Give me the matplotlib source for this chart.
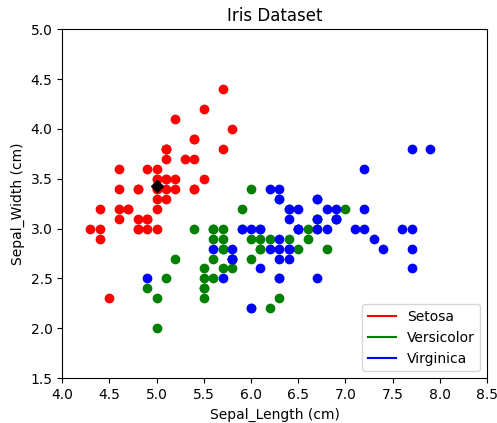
import matplotlib.pyplot as plt
from matplotlib.lines import Line2D
import numpy as np

setosa_len = [5.1, 4.9, 4.7, 4.6, 5.0, 5.4, 4.6, 5.0, 4.4, 4.9, 5.4, 4.8, 4.8, 4.3, 5.8, 5.7, 5.4, 5.1, 5.7, 5.1,
              5.4, 5.1, 4.6, 5.1, 4.8, 5.0, 5.0, 5.2, 5.2, 4.7, 4.8, 5.4, 5.2, 5.5, 4.9, 5.0, 5.5, 4.9, 4.4, 5.1,
              5.0, 4.5, 4.4, 5.0, 5.1, 4.8, 5.1, 4.6, 5.3, 5.0]
setosa_wid = [3.5, 3.0, 3.2, 3.1, 3.6, 3.9, 3.4, 3.4, 2.9, 3.1, 3.7, 3.4, 3.0, 3.0, 4.0, 4.4, 3.9, 3.5, 3.8, 3.8,
              3.4, 3.7, 3.6, 3.3, 3.4, 3.0, 3.4, 3.5, 3.4, 3.2, 3.1, 3.4, 4.1, 4.2, 3.1, 3.2, 3.5, 3.6, 3.0, 3.4,
              3.5, 2.3, 3.2, 3.5, 3.8, 3.0, 3.8, 3.2, 3.7, 3.3]
versi_len = [7.0, 6.4, 6.9, 5.5, 6.5, 5.7, 6.3, 4.9, 6.6, 5.2, 5.0, 5.9, 6.0, 6.1, 5.6, 6.7, 5.6, 5.8, 6.2, 5.6,
             5.9, 6.1, 6.3, 6.1, 6.4, 6.6, 6.8, 6.7, 6.0, 5.7, 5.5, 5.5, 5.8, 6.0, 5.4, 6.0, 6.7, 6.3, 5.6, 5.5,
             5.5, 6.1, 5.8, 5.0, 5.6, 5.7, 5.7, 6.2, 5.1, 5.7]
versi_wid = [3.2, 3.2, 3.1, 2.3, 2.8, 2.8, 3.3, 2.4, 2.9, 2.7, 2.0, 3.0, 2.2, 2.9, 2.9, 3.1, 3.0, 2.7, 2.2, 2.5,
             3.2, 2.8, 2.5, 2.8, 2.9, 3.0, 2.8, 3.0, 2.9, 2.6, 2.4, 2.4, 2.7, 2.7, 3.0, 3.4, 3.1, 2.3, 3.0, 2.5,
             2.6, 3.0, 2.6, 2.3, 2.7, 3.0, 2.9, 2.9, 2.5, 2.8]
virg_len = [6.3, 5.8, 7.1, 6.3, 6.5, 7.6, 4.9, 7.3, 6.7, 7.2, 6.5, 6.4, 6.8, 5.7, 5.8, 6.4, 6.5, 7.7, 7.7, 6.0,
            6.9, 5.6, 7.7, 6.3, 6.7, 7.2, 6.2, 6.1, 6.4, 7.2, 7.4, 7.9, 6.4, 6.3, 6.1, 7.7, 6.3, 6.4, 6.0, 6.9,
            6.7, 6.9, 5.8, 6.8, 6.7, 6.7, 6.3, 6.5, 6.2, 5.9]
virg_wid = [3.3, 2.7, 3.0, 2.9, 3.0, 3.0, 2.5, 2.9, 2.5, 3.6, 3.2, 2.7, 3.0, 2.5, 2.8, 3.2, 3.0, 3.8, 2.6, 2.2,
            3.2, 2.8, 2.8, 2.7, 3.3, 3.2, 2.8, 3.0, 2.8, 3.0, 2.8, 3.8, 2.8, 2.8, 2.6, 3.0, 3.4, 3.1, 3.0, 3.1,
            3.1, 3.1, 2.7, 3.2, 3.3, 3.0, 2.5, 3.0, 3.4, 3.0]

species = ['Setosa', 'Versicolor', 'Virginica']
colors = ['red', 'green', 'blue']

fig = plt.figure(figsize=(4.97, 4.23), dpi=100)
ax = fig.add_axes([0.125, 0.106, 0.855, 0.825])

ax.scatter(setosa_len, setosa_wid, c='red')
ax.scatter(versi_len, versi_wid, c='green')
ax.scatter(virg_len, virg_wid, c='blue')
ax.scatter(np.mean(setosa_len), np.mean(setosa_wid), c='black', marker='D')

ax.set_xlim(4.0, 8.5)
ax.set_ylim(1.5, 5.0)
ax.set_title('Iris Dataset')
ax.set_xlabel('Sepal_Length (cm)')
ax.set_ylabel('Sepal_Width (cm)')

handles = [Line2D([0], [0], color=c) for c in colors]
ax.legend(handles, species, loc='lower right')

fig.savefig('out.png', dpi=100)
